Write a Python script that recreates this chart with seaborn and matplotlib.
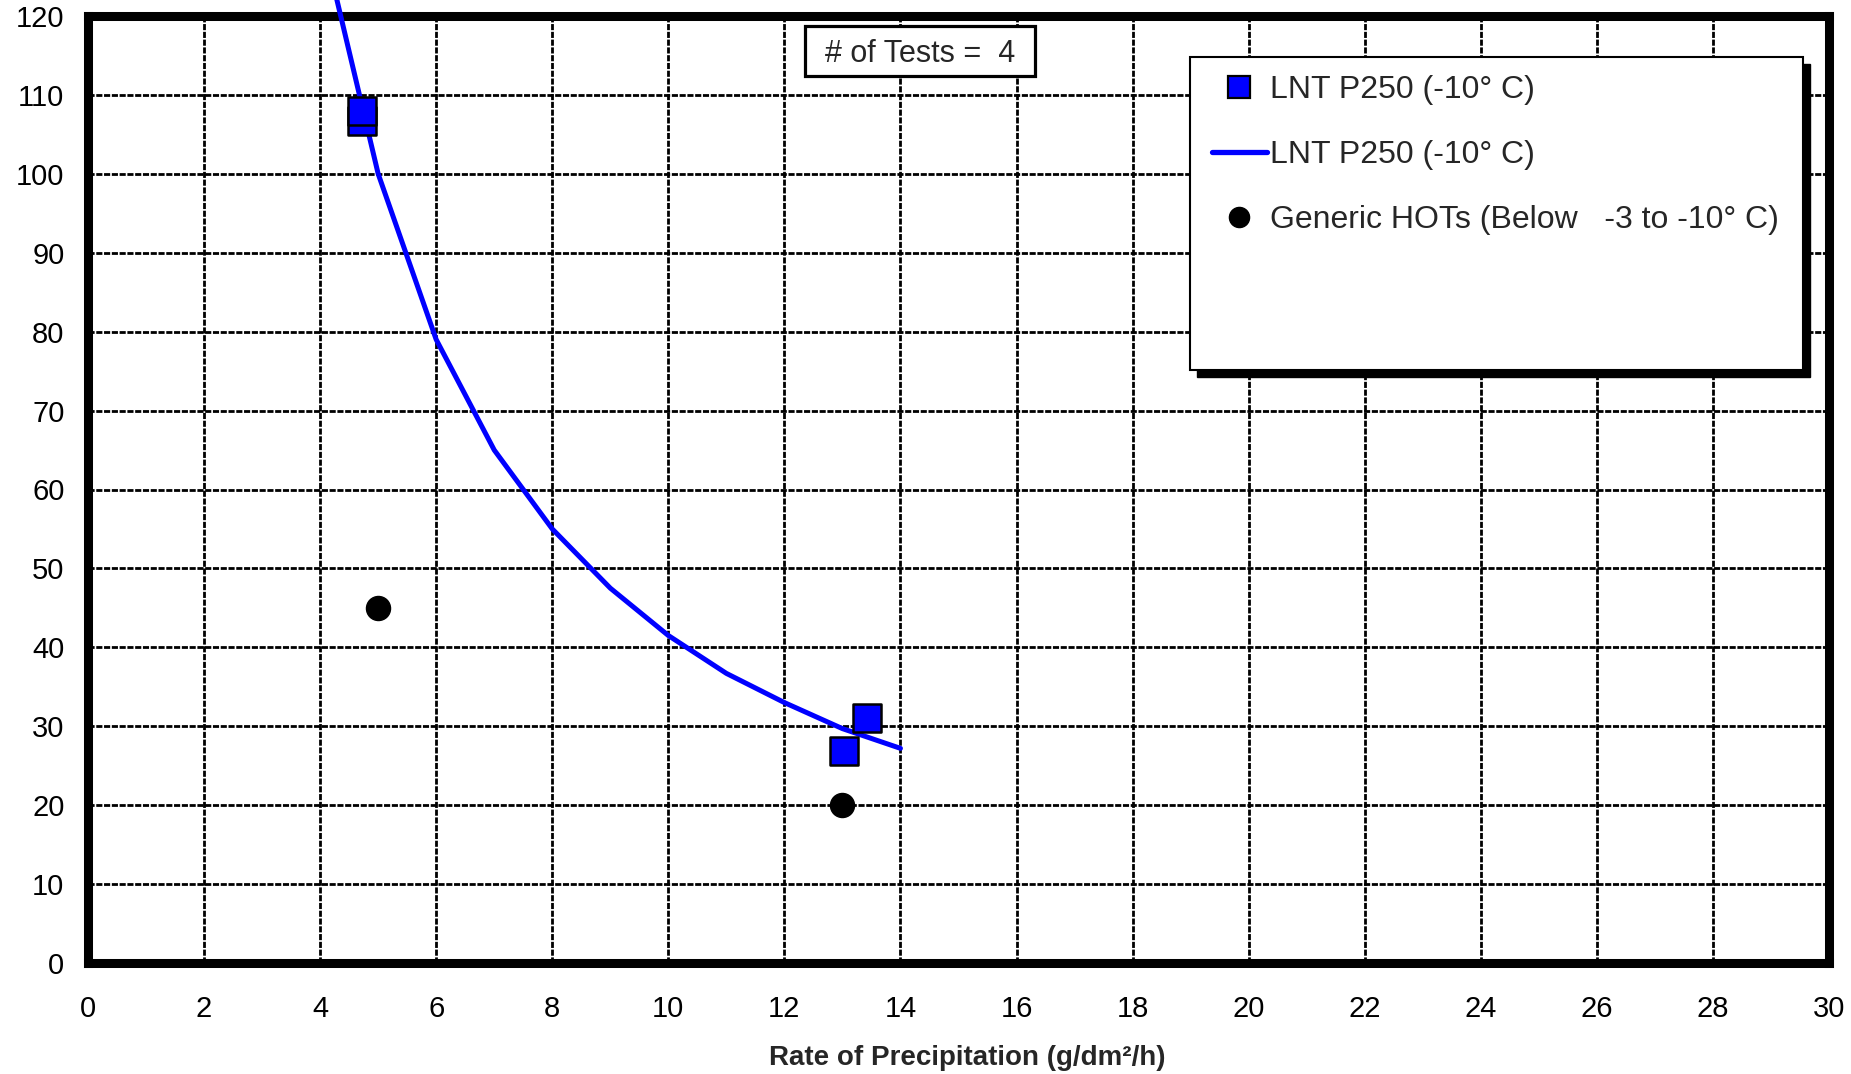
import matplotlib
matplotlib.use("Agg")
import matplotlib.pyplot as plt
from matplotlib.lines import Line2D
from matplotlib.patches import Rectangle
import seaborn as sns
import pandas as pd

# ---- data ----
square_x = [4.72, 4.72, 13.03, 13.43]
square_y = [106.7, 107.9, 26.9, 31.1]
curve_x = [4, 5, 6, 7, 8, 9, 10, 11, 12, 13, 14]
curve_y = [131, 100, 79, 65, 55, 47.5, 41.5, 36.7, 33, 29.7, 27.2]
circle_x = [5.0, 13.0]
circle_y = [45, 20]
legend_labels = ["LNT P250 (-10\u00b0 C)", "LNT P250 (-10\u00b0 C)",
                 "Generic HOTs (Below   -3 to -10\u00b0 C)"]
x_ticks = list(range(0, 31, 2))
y_ticks = list(range(0, 121, 10))
x_label = "Rate of Precipitation (g/dm\u00b2/h)"
tests_text = "# of Tests =  4"

sns.set_style("white")
plt.rcParams['font.family'] = ['Liberation Sans', 'DejaVu Sans']

W, H = 1851, 1074
fig = plt.figure(figsize=(W / 100, H / 100), dpi=100)
ax = fig.add_axes([88 / W, 1 - 963 / H, (1829 - 88) / W, (963 - 16) / H])

df_curve = pd.DataFrame({"x": curve_x, "y": curve_y})
df_sq = pd.DataFrame({"x": square_x, "y": square_y})
df_ci = pd.DataFrame({"x": circle_x, "y": circle_y})

sns.lineplot(data=df_curve, x="x", y="y", ax=ax, color="#0000FF", lw=3.6,
             sort=False, estimator=None, clip_on=False, zorder=3)
sns.scatterplot(data=df_sq, x="x", y="y", ax=ax, marker="s", s=420,
                color="#0000FF", edgecolor="black", linewidth=1.8, zorder=4)
sns.scatterplot(data=df_ci, x="x", y="y", ax=ax, marker="o", s=300,
                color="black", edgecolor="black", linewidth=1, zorder=4)

ax.set_xlim(0, 30)
ax.set_ylim(0, 120)
ax.set_xticks(x_ticks)
ax.set_yticks(y_ticks)
ax.set_xlabel("")
ax.set_ylabel("")
ax.grid(True, color="black", lw=2.0, linestyle=(0, (2.2, 0.6)), zorder=0)
ax.set_axisbelow(True)
for sp in ax.spines.values():
    sp.set_visible(True)
    sp.set_color("black")
    sp.set_linewidth(6.5)
ax.tick_params(axis="both", direction="out", length=7, width=1.6,
               color="black", labelsize=21, labelcolor="black")
ax.tick_params(axis="y", pad=10)
ax.tick_params(axis="x", pad=16)

fig.text(967 / W, 1 - 1058 / H, x_label, ha="center", va="center",
         fontsize=20, fontweight="bold")

# "# of Tests" box
bx0, by0, bx1, by1 = 805, 26, 1035, 76
fig.patches.append(Rectangle((bx0 / W, 1 - by1 / H), (bx1 - bx0) / W,
                             (by1 - by0) / H, transform=fig.transFigure,
                             facecolor="white", edgecolor="black", lw=2.3,
                             zorder=5))
fig.text((bx0 + bx1) / 2 / W, 1 - (by0 + by1) / 2 / H, tests_text,
         ha="center", va="center_baseline", fontsize=22, zorder=6)

# legend box with shadow
lx0, ly_top, lx1, ly_bot = 1190, 57, 1803, 370
sh = 7
fig.patches.append(Rectangle(((lx0 + sh) / W, 1 - (ly_bot + sh) / H),
                             (lx1 - lx0) / W, (ly_bot - ly_top) / H,
                             transform=fig.transFigure, facecolor="black",
                             edgecolor="black", zorder=5))
fig.patches.append(Rectangle((lx0 / W, 1 - ly_bot / H),
                             (lx1 - lx0) / W, (ly_bot - ly_top) / H,
                             transform=fig.transFigure, facecolor="white",
                             edgecolor="black", lw=1.5, zorder=6))

handles = [
    Line2D([], [], marker="s", linestyle="none", markersize=16,
           markerfacecolor="#0000FF", markeredgecolor="black", markeredgewidth=1.6),
    Line2D([], [], color="#0000FF", lw=3.8),
    Line2D([], [], marker="o", linestyle="none", markersize=14.5,
           markerfacecolor="black", markeredgecolor="black"),
]
leg = fig.legend(handles, legend_labels, loc="upper left",
                 bbox_to_anchor=(1212 / W, 1 - 75 / H), frameon=False,
                 fontsize=23, handlelength=1.72, handletextpad=0.1,
                 labelspacing=1.1, borderpad=0, borderaxespad=0)
leg.set_zorder(7)

fig.savefig("out.png", dpi=100)
